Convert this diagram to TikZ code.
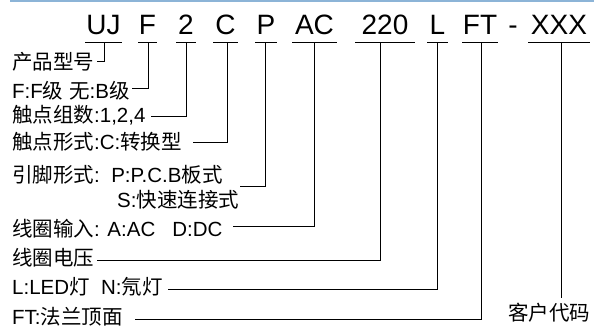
\documentclass[tikz,border=0pt]{standalone}
\usepackage{fontspec}
\setmainfont{Liberation Sans}
\newfontfamily\cjk{Noto Sans CJK SC}
\newcommand\zhf[1]{{\cjk #1}}
\definecolor{topblue}{RGB}{140,180,215}
\begin{document}
\begin{tikzpicture}[x=1pt,y=-1pt,
  code/.style={font=\fontsize{28}{28}\selectfont, anchor=base, inner sep=0},
  lbl/.style={font=\fontsize{20.5}{22}\selectfont, anchor=base west, inner sep=0},
  ln/.style={line width=1pt, black}]
\useasboundingbox (0,0) rectangle (594,328);
\draw[line width=1.6pt, topblue] (10,0.8) -- (594,0.8);
% code letters
\node[code] (cUJ)  at (103.5,35) {UJ};
\node[code] (cF)   at (147.5,35) {F};
\node[code] (c2)   at (186,35) {2};
\node[code] (cC)   at (225.5,35) {C};
\node[code] (cP)   at (266,35) {P};
\node[code] (cAC)  at (314.5,35) {AC};
\node[code] (c220) at (385,35) {220};
\node[code] (cL)   at (437.5,35) {L};
\node[code] (cFT)  at (480,35) {FT};
\node[code] (cdash) at (513,35) {-};
\node[code] (cX)   at (559,35) {XXX};
% underlines
\draw[ln] (85,43) -- (122,43);
\draw[ln] (138,43) -- (157,43);
\draw[ln] (176,43) -- (196,43);
\draw[ln] (213,43) -- (238,43);
\draw[ln] (255,43) -- (277,43);
\draw[ln] (292,43) -- (337,43);
\draw[ln] (355,43) -- (415,43);
\draw[ln] (427,43) -- (448,43);
\draw[ln] (462,43) -- (498,43);
\draw[ln] (528,43) -- (590,43);
% underline tap points
\coordinate (uUJ) at (104,43);
\coordinate (uF) at (148,43);
\coordinate (u2) at (186,43);
\coordinate (uC) at (227,43);
\coordinate (uP) at (265,43);
\coordinate (uAC) at (314,43);
\coordinate (u220) at (380,43);
\coordinate (uL) at (437,43);
\coordinate (uFT) at (481,43);
\coordinate (uX) at (561,43);
% labels
\node[lbl] (lUJ) at (12,70) {\zhf{产品型号}};
\node[lbl] (lF) at (12,99) {F:F\zhf{级} \zhf{无}:B\zhf{级}};
\node[lbl] (l2) at (12,123) {\zhf{触点组数}:1,2,4};
\node[lbl] (lC) at (12,150) {\zhf{触点形式}:C:\zhf{转换型}};
\node[lbl] (lP) at (12,183) {\zhf{引脚形式}:\ \ P:P.C.B\zhf{板式}};
\node[lbl] (lS) at (117,208) {S:\zhf{快速连接式}};
\node[lbl] (lAC) at (12,237) {\zhf{线圈输入}: A:AC\ \ \ D:DC};
\node[lbl] (l220) at (12,266) {\zhf{线圈电压}};
\node[lbl] (lL) at (12,295) {L:LED\zhf{灯}\ \ N:\zhf{氖灯}};
\node[lbl] (lFT) at (12,325) {FT:\zhf{法兰顶面}};
\node[lbl, anchor=base] (lX) at (549,321) {\zhf{客户代码}};
% line ends
\coordinate (eUJ) at (97,62);
\coordinate (eF) at (132,89);
\coordinate (e2) at (151,117);
\coordinate (eC) at (193,143);
\coordinate (eP) at (240,187);
\coordinate (eAC) at (233,227);
\coordinate (e220) at (97,261);
\coordinate (eL) at (168,290);
\coordinate (eFT) at (135,320);
\coordinate (eX) at (561,298);
% connectors
\draw[ln] (uUJ) |- (eUJ);
\draw[ln] (uF) |- (eF);
\draw[ln] (u2) |- (e2);
\draw[ln] (uC) |- (eC);
\draw[ln] (uP) |- (eP);
\draw[ln] (uAC) |- (eAC);
\draw[ln] (u220) |- (e220);
\draw[ln] (uL) |- (eL);
\draw[ln] (uFT) |- (eFT);
\draw[ln] (uX) -- (eX);
\end{tikzpicture}
\end{document}
